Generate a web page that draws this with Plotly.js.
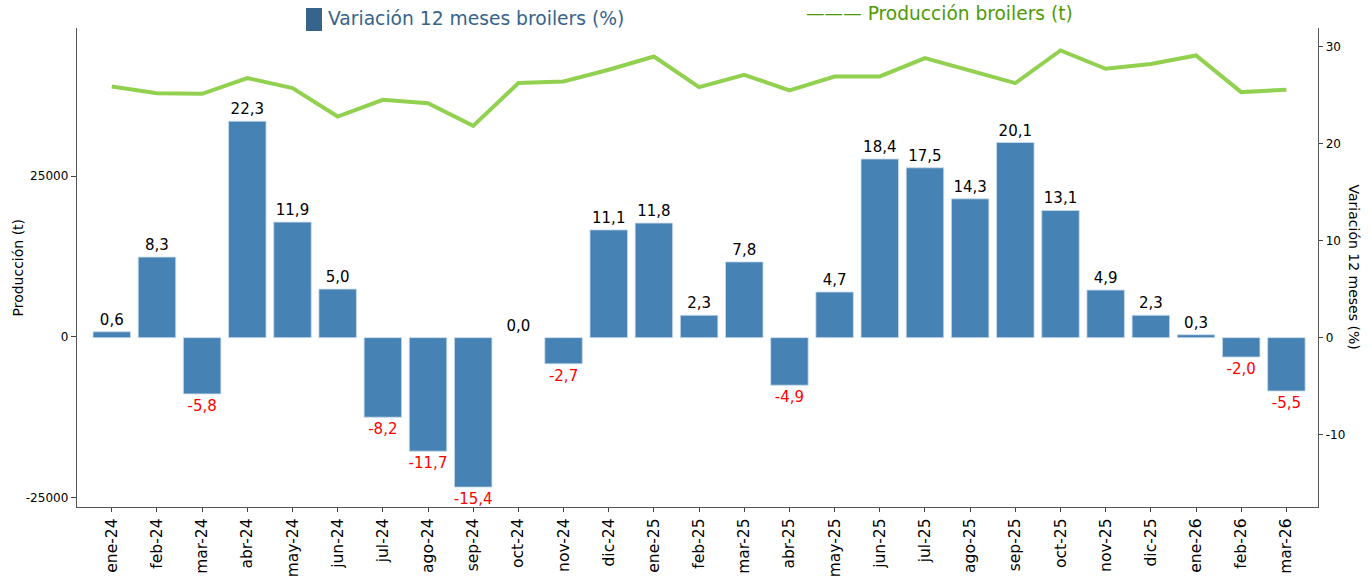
<!DOCTYPE html>
<html>
<head>
<meta charset="utf-8">
<script src="https://cdn.plot.ly/plotly-3.0.1.min.js"></script>
<style>
  html, body { margin: 0; padding: 0; background: #ffffff; }
  #chart { width: 1372px; height: 578px; }
</style>
</head>
<body>
<div id="chart"></div>
<script>
const months = ["ene-24","feb-24","mar-24","abr-24","may-24","jun-24","jul-24","ago-24","sep-24","oct-24","nov-24","dic-24",
                "ene-25","feb-25","mar-25","abr-25","may-25","jun-25","jul-25","ago-25","sep-25","oct-25","nov-25","dic-25",
                "ene-26","feb-26","mar-26"];
const variacion = [0.6, 8.3, -5.8, 22.3, 11.9, 5.0, -8.2, -11.7, -15.4, 0.0, -2.7, 11.1,
                   11.8, 2.3, 7.8, -4.9, 4.7, 18.4, 17.5, 14.3, 20.1, 13.1, 4.9, 2.3,
                   0.3, -2.0, -5.5];
const produccion = [38940, 37900, 37800, 40250, 38690, 34270, 36870, 36350, 32820, 39470, 39720, 41540,
                    43610, 38850, 40760, 38320, 40500, 40500, 43360, 41430, 39470, 44550, 41700, 42430,
                    43770, 38070, 38430];
const leftTicks = [-25000, 0, 25000];
const leftTickText = ["-25000", "0", "25000"];
const rightTicks = [-10, 0, 10, 20, 30];
const rightTickText = ["-10", "0", "10", "20", "30"];

const barText = variacion.map(v => v.toFixed(1).replace('.', ','));
const barTextColor = variacion.map(v => v < 0 ? '#ff0000' : '#000000');
const barEdge = variacion.map(v => v === 0 ? 0 : 0.8);

const FONT = 'DejaVu Sans, sans-serif';

const traces = [
  {
    type: 'bar',
    name: 'Variación 12 meses broilers (%)',
    x: months,
    y: variacion,
    yaxis: 'y2',
    marker: { color: '#4682b4', line: { color: '#c9dcee', width: barEdge } },
    text: barText,
    textposition: 'outside',
    constraintext: 'none',
    cliponaxis: false,
    textfont: { family: FONT, size: 15, color: barTextColor },
    showlegend: false,
    hoverinfo: 'skip'
  },
  {
    type: 'scatter',
    mode: 'lines',
    name: 'Producción broilers (t)',
    x: months,
    y: produccion,
    yaxis: 'y',
    line: { color: '#92d050', width: 4 },
    showlegend: false,
    hoverinfo: 'skip'
  }
];

const W = 1241, H = 479, L = 77, T = 28;
const px = x => (x - L) / W;
const py = y => (T + H - y) / H;

const layout = {
  width: 1372,
  height: 578,
  margin: { l: 77, r: 54, t: 28, b: 71, pad: 0 },
  paper_bgcolor: '#ffffff',
  plot_bgcolor: '#ffffff',
  font: { family: FONT, color: '#000000' },
  bargap: 0.17,
  showlegend: false,
  xaxis: {
    type: 'category',
    range: [-0.77, 26.7],
    tickangle: -90,
    tickfont: { family: FONT, size: 15.5, color: '#000000' },
    ticks: 'outside', ticklen: 4, tickwidth: 1, tickcolor: '#444',
    showline: true, linecolor: '#555', linewidth: 1.3,
    showgrid: false, zeroline: false, mirror: false
  },
  yaxis: {
    range: [-26480, 48040],
    tickvals: leftTicks, ticktext: leftTickText,
    tickfont: { family: FONT, size: 12, color: '#000000' },
    ticks: 'outside', ticklen: 5, tickwidth: 1, tickcolor: '#444',
    showline: true, linecolor: '#555', linewidth: 1.3,
    showgrid: false, zeroline: false
  },
  yaxis2: {
    overlaying: 'y',
    side: 'right',
    range: [-17.45, 31.9],
    tickvals: rightTicks, ticktext: rightTickText,
    tickfont: { family: FONT, size: 12, color: '#000000' },
    ticks: 'outside', ticklen: 4, tickwidth: 1, tickcolor: '#444',
    showline: true, linecolor: '#555', linewidth: 1.3,
    showgrid: false, zeroline: false
  },
  shapes: [
    { type: 'rect', xref: 'paper', yref: 'paper',
      x0: px(306), x1: px(322), y0: py(31), y1: py(8),
      fillcolor: '#36648b', line: { width: 0 } }
  ],
  annotations: [
    { xref: 'paper', yref: 'paper', x: px(326), y: py(19), xanchor: 'left', yanchor: 'middle',
      text: 'Variación 12 meses broilers (%)', showarrow: false,
      font: { family: FONT, size: 18.7, color: '#36648b' } },
    { xref: 'paper', yref: 'paper', x: px(804), y: py(13), xanchor: 'left', yanchor: 'middle',
      text: '——— Producción broilers (t)', showarrow: false,
      font: { family: FONT, size: 18.6, color: '#4e9a06' } },
    { xref: 'paper', yref: 'paper', x: px(17), y: 0.5, xanchor: 'center', yanchor: 'middle',
      text: 'Producción (t)', textangle: -90, showarrow: false,
      font: { family: FONT, size: 14, color: '#000000' } },
    { xref: 'paper', yref: 'paper', x: px(1354), y: 0.5, xanchor: 'center', yanchor: 'middle',
      text: 'Variación 12 meses (%)', textangle: 90, showarrow: false,
      font: { family: FONT, size: 14, color: '#000000' } }
  ]
};

Plotly.newPlot('chart', traces, layout, { displayModeBar: false, staticPlot: true });
</script>
</body>
</html>
